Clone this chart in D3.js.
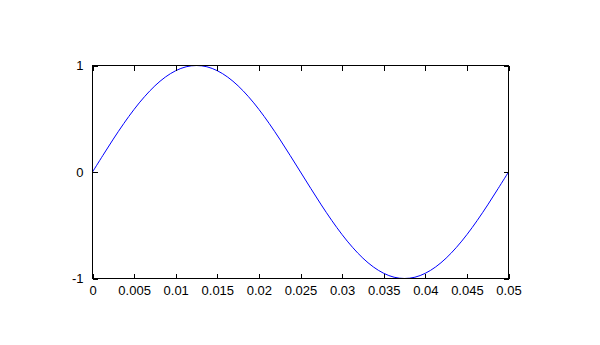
<!DOCTYPE html>
<html><head><meta charset="utf-8">
<script src="https://cdn.jsdelivr.net/npm/d3@7"></script>
<style>body{margin:0;background:#fff}svg{display:block}text{font-family:"Liberation Sans",Arial,sans-serif;font-size:13px;fill:#000}</style>
</head><body><svg id="c" width="600" height="345"></svg>
<script>
const xValues = [0,0.00125,0.0025,0.00375,0.005,0.00625,0.0075,0.00875,0.01,0.01125,0.0125,0.01375,0.015,0.01625,0.0175,0.01875,0.02,0.02125,0.0225,0.02375,0.025,0.02625,0.0275,0.02875,0.03,0.03125,0.0325,0.03375,0.035,0.03625,0.0375,0.03875,0.04,0.04125,0.0425,0.04375,0.045,0.04625,0.0475,0.04875,0.05];
const yValues = [0,0.156,0.309,0.454,0.588,0.707,0.809,0.891,0.951,0.988,1,0.988,0.951,0.891,0.809,0.707,0.588,0.454,0.309,0.156,0,-0.156,-0.309,-0.454,-0.588,-0.707,-0.809,-0.891,-0.951,-0.988,-1,-0.988,-0.951,-0.891,-0.809,-0.707,-0.588,-0.454,-0.309,-0.156,0];
const xTicks = [0,0.005,0.01,0.015,0.02,0.025,0.03,0.035,0.04,0.045,0.05];
const xTickLabels = ["0","0.005","0.01","0.015","0.02","0.025","0.03","0.035","0.04","0.045","0.05"];
const yTicks = [-1,0,1];
const yTickLabels = ["-1","0","1"];

const svg = d3.select("#c");
const L=92.5,R=508.5,T=65.5,B=278.5;
const x = d3.scaleLinear().domain([0,0.05]).range([L,R]);
const y = d3.scaleLinear().domain([-1,1]).range([B,T]);

const line = d3.line().x((d,i)=>x(xValues[i])).y(d=>y(d)).curve(d3.curveCatmullRom);
svg.append("path").datum(yValues).attr("d",line).attr("fill","none").attr("stroke","#0000ff").attr("stroke-width",1);

function styleAxis(g){g.select(".domain").remove();g.selectAll("line").attr("stroke","#000").attr("shape-rendering","crispEdges");g.selectAll("text").attr("font-size",13).attr("font-family","'Liberation Sans',Arial,sans-serif").attr("fill","#000");}

svg.append("g").attr("transform",`translate(0,${B})`)
  .call(d3.axisBottom(x).tickValues(xTicks).tickFormat((d,i)=>xTickLabels[i]).tickSizeInner(-5).tickSizeOuter(0).tickPadding(7))
  .call(styleAxis);
svg.append("g").attr("transform",`translate(0,${T})`)
  .call(d3.axisTop(x).tickValues(xTicks).tickFormat("").tickSizeInner(-5).tickSizeOuter(0))
  .call(styleAxis);
svg.append("g").attr("transform",`translate(${L},0)`)
  .call(d3.axisLeft(y).tickValues(yTicks).tickFormat((d,i)=>yTickLabels[i]).tickSizeInner(-5).tickSizeOuter(0).tickPadding(9))
  .call(styleAxis);
svg.append("g").attr("transform",`translate(${R},0)`)
  .call(d3.axisRight(y).tickValues(yTicks).tickFormat("").tickSizeInner(-5).tickSizeOuter(0))
  .call(styleAxis);

svg.append("rect").attr("x",L).attr("y",T).attr("width",R-L).attr("height",B-T)
  .attr("fill","none").attr("stroke","#000").attr("stroke-width",1).attr("shape-rendering","crispEdges");
</script></body></html>
